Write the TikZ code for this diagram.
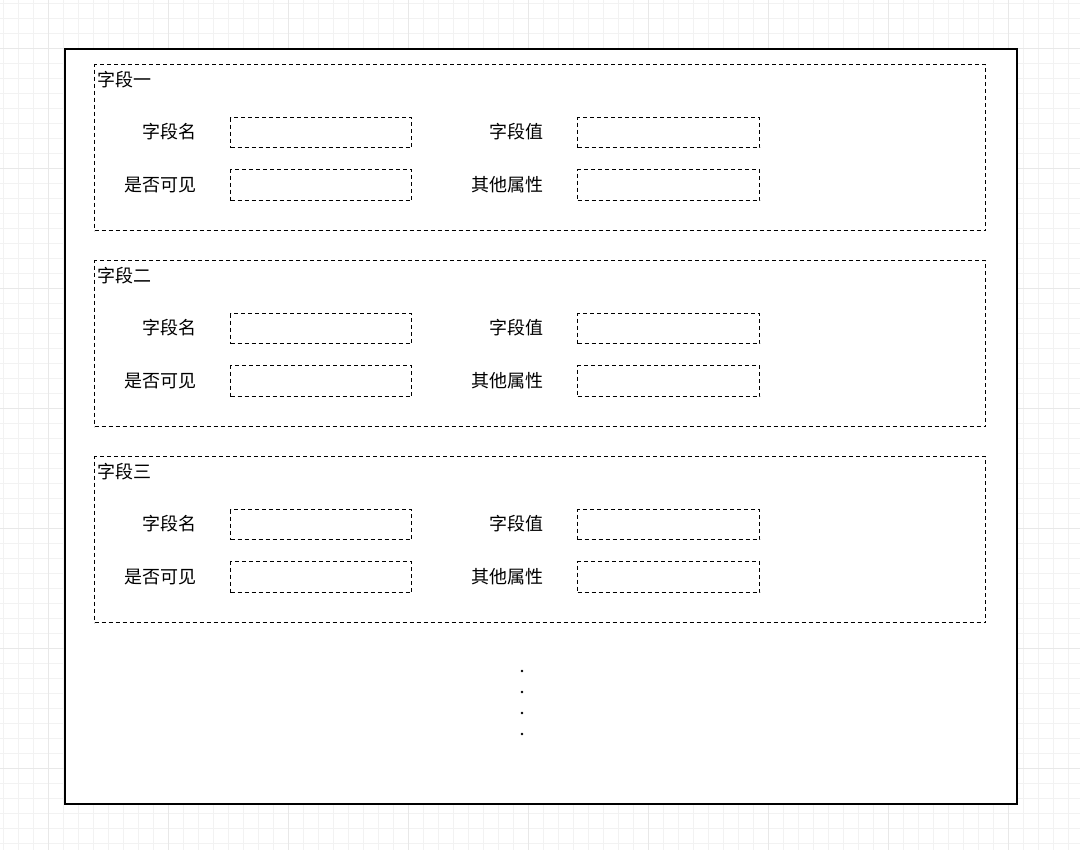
\documentclass[tikz,border=0pt]{standalone}
\usepackage{fontspec}
\newfontfamily\cjk{Noto Sans CJK SC}
\begin{document}
\begin{tikzpicture}[x=1pt,y=-1pt,
  dbox/.style={draw,line width=1.3pt,dash pattern=on 4pt off 3pt},
  lbl/.style={font=\cjk\fontsize{18}{20}\selectfont,inner sep=0pt}]
\useasboundingbox (0,0) rectangle (1080,850);
\fill[white] (0,0) rectangle (1080,850);
\foreach \i in {0,...,72}{
  \draw[black!5,line width=0.5pt] (3+15*\i,0) -- (3+15*\i,850);}
\foreach \i in {0,...,57}{
  \draw[black!5,line width=0.5pt] (0,3+15*\i) -- (1080,3+15*\i);}
\foreach \i in {0,...,8}{
  \draw[black!9,line width=0.8pt] (48+120*\i,0) -- (48+120*\i,850);}
\foreach \i in {0,...,7}{
  \draw[black!9,line width=0.8pt] (0,48+120*\i) -- (1080,48+120*\i);}
\node[draw,line width=1.6pt,fill=white,minimum width=952,minimum height=755,anchor=north west,inner sep=0pt] (outer) at (64,48) {};
\foreach \t/\n [count=\k from 0] in {字段一/a,字段二/b,字段三/c}{
  \pgfmathsetmacro{\oy}{196*\k}
  \begin{scope}[yshift=-\oy]
  \node[dbox,minimum width=891,minimum height=166,anchor=north west,inner sep=0pt] (g\n) at (94,64) {};
  \node[lbl,anchor=west] (t\n) at (97,80) {\t};
  \node[lbl,anchor=east] (l1\n) at (197,132) {字段名};
  \node[dbox,minimum width=181,minimum height=30,anchor=north west,inner sep=0pt] (b1\n) at (230,117) {};
  \node[lbl,anchor=east] (l2\n) at (544,132) {字段值};
  \node[dbox,minimum width=182,minimum height=30,anchor=north west,inner sep=0pt] (b2\n) at (577,117) {};
  \node[lbl,anchor=east] (l3\n) at (197,185) {是否可见};
  \node[dbox,minimum width=181,minimum height=31,anchor=north west,inner sep=0pt] (b3\n) at (230,169) {};
  \node[lbl,anchor=east] (l4\n) at (544,185) {其他属性};
  \node[dbox,minimum width=182,minimum height=31,anchor=north west,inner sep=0pt] (b4\n) at (577,169) {};
  \end{scope}
}
\foreach \y [count=\j] in {671,692,713,734}{
  \fill (522,\y) circle (1.3pt) coordinate (d\j);}
\end{tikzpicture}
\end{document}
